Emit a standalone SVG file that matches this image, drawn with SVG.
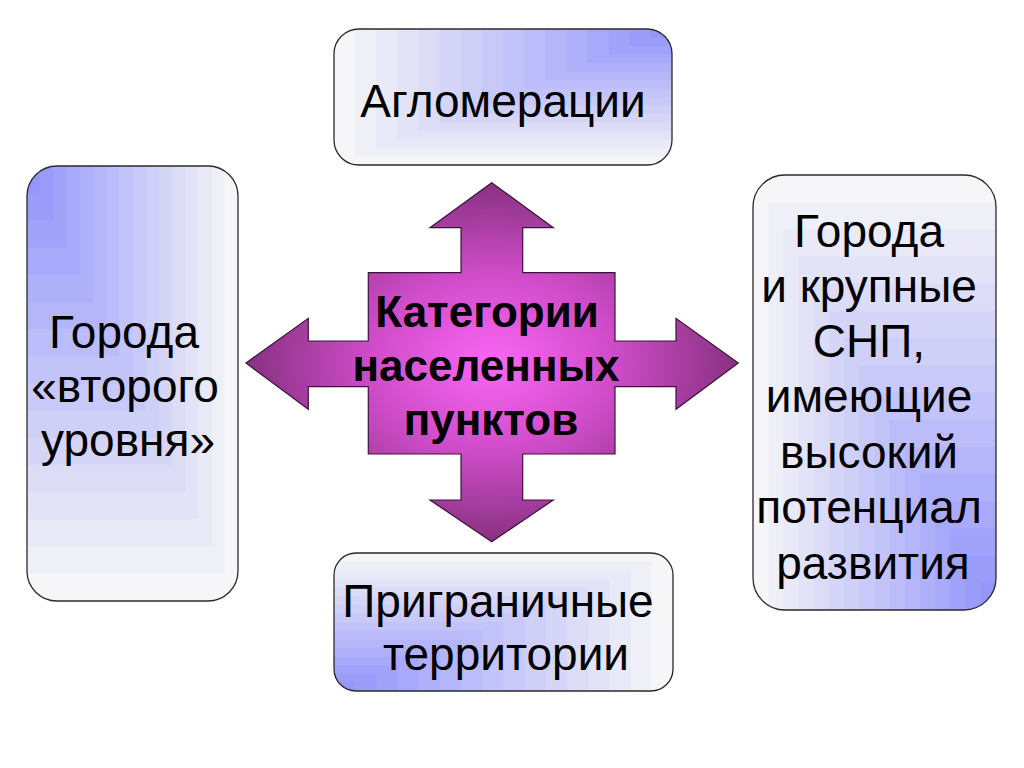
<svg xmlns="http://www.w3.org/2000/svg" xmlns:xlink="http://www.w3.org/1999/xlink" width="1024" height="768" viewBox="0 0 1024 768">
<style>
.t{font-family:"Liberation Sans",Arial,sans-serif;font-size:46px;fill:#000;text-anchor:middle}
.c{font-family:"Liberation Sans",Arial,sans-serif;font-size:44px;font-weight:bold;fill:#000;text-anchor:middle}
.frame{fill:none;stroke:#2a2a2a;stroke-width:1.3}
</style>
<defs>
<symbol id="steps" viewBox="0 0 100 100" preserveAspectRatio="none">
<rect width="100" height="100" fill="#f6f6f9"/>
<rect width="93.75" height="93.75" fill="#efeff8"/>
<rect width="87.5" height="87.5" fill="#e9e9f7"/>
<rect width="81.25" height="81.25" fill="#e2e3f7"/>
<rect width="75" height="75" fill="#dcdcf7"/>
<rect width="68.75" height="68.75" fill="#d5d6f7"/>
<rect width="62.5" height="62.5" fill="#cfd0f8"/>
<rect width="56.25" height="56.25" fill="#c8c9f8"/>
<rect width="50" height="50" fill="#c2c3f8"/>
<rect width="43.75" height="43.75" fill="#bbbcf9"/>
<rect width="37.5" height="37.5" fill="#b5b6f9"/>
<rect width="31.25" height="31.25" fill="#aeb0f9"/>
<rect width="25" height="25" fill="#a8a9fa"/>
<rect width="18.75" height="18.75" fill="#a1a3fa"/>
<rect width="12.5" height="12.5" fill="#9b9cfa"/>
<rect width="6.25" height="6.25" fill="#9496fa"/>
</symbol>
<clipPath id="cTop"><rect x="334" y="29" width="338" height="136" rx="25"/></clipPath>
<clipPath id="cLeft"><rect x="27" y="166" width="211" height="435" rx="30"/></clipPath>
<clipPath id="cRight"><rect x="753" y="175" width="243" height="435" rx="32"/></clipPath>
<clipPath id="cBottom"><rect x="334" y="553" width="339" height="138" rx="22"/></clipPath>
<radialGradient id="mag" cx="0.5" cy="0.5" r="0.55">
<stop offset="0" stop-color="#fa66f4"/>
<stop offset="0.45" stop-color="#cf4cc9"/>
<stop offset="1" stop-color="#7a2c72"/>
</radialGradient>
</defs>

<g id="connectors">
<path d="M491.7 182.7 L553.3 227.7 L522.7 227.7 L522.7 272.7 L615 272.7 L615 341 L676 341 L676 318.3 L738.3 363 L676 409.3 L676 386.7 L615 386.7 L615 454 L522.7 454 L522.7 500 L553.3 500 L491.7 541.7 L430 500 L461 500 L461 454 L368.3 454 L368.3 386.7 L308.3 386.7 L308.3 409.3 L246 363 L308.3 318.3 L308.3 341 L368.3 341 L368.3 272.7 L461 272.7 L461 227.7 L430 227.7 Z" fill="url(#mag)" stroke="#3a1438" stroke-width="1.2"/>
</g>

<g id="center">
<text class="c" x="487" y="327">Категории</text>
<text class="c" x="486" y="381">населенных</text>
<text class="c" x="491" y="435">пунктов</text>
</g>

<g id="top">
<g clip-path="url(#cTop)">
<use xlink:href="#steps" x="0" y="0" width="338" height="136" transform="translate(672,29) scale(-1,1)"/>
</g>
<rect class="frame" x="334" y="29" width="338" height="136" rx="25"/>
<text class="t" x="503" y="117">Агломерации</text>
</g>

<g id="left">
<g clip-path="url(#cLeft)">
<use xlink:href="#steps" x="27" y="166" width="211" height="435"/>
</g>
<rect class="frame" x="27" y="166" width="211" height="435" rx="30"/>
<text class="t" x="124" y="348">Города</text>
<text class="t" x="125" y="402">«второго</text>
<text class="t" x="128" y="456">уровня»</text>
</g>

<g id="right">
<g clip-path="url(#cRight)">
<use xlink:href="#steps" x="0" y="0" width="243" height="435" transform="translate(996,610) scale(-1,-1)"/>
</g>
<rect class="frame" x="753" y="175" width="243" height="435" rx="32"/>
<text class="t" x="869" y="247">Города</text>
<text class="t" x="869" y="302">и крупные</text>
<text class="t" x="869" y="357">СНП,</text>
<text class="t" x="869" y="412">имеющие</text>
<text class="t" x="869" y="468">высокий</text>
<text class="t" x="869" y="523">потенциал</text>
<text class="t" x="873" y="579">развития</text>
</g>

<g id="bottom">
<g clip-path="url(#cBottom)">
<use xlink:href="#steps" x="0" y="0" width="339" height="138" transform="translate(334,691) scale(1,-1)"/>
</g>
<rect class="frame" x="334" y="553" width="339" height="138" rx="22"/>
<text class="t" x="498" y="617">Приграничные</text>
<text class="t" x="506" y="670">территории</text>
</g>
</svg>
